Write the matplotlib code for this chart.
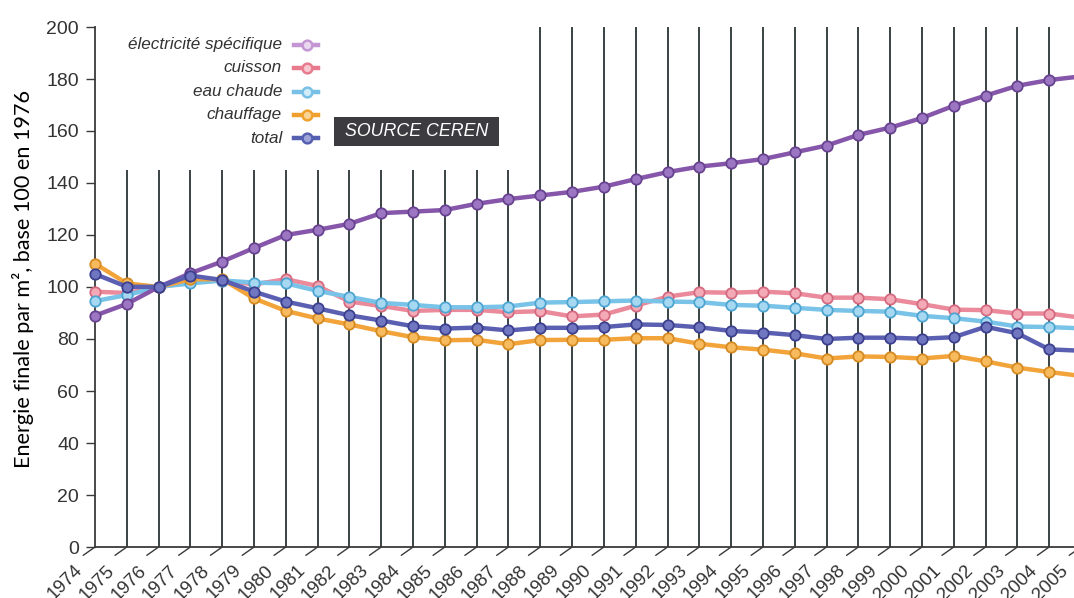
import matplotlib
matplotlib.use('Agg')
import matplotlib.pyplot as plt
import matplotlib.transforms as mtransforms
from matplotlib.patches import Rectangle
from matplotlib.lines import Line2D

# ---------------- data ----------------
years = list(range(1974, 2006))
year_labels = [str(y) for y in years]

elec = [89, 93.5, 100, 105.3, 109.8, 115, 120, 122, 124.3, 128.4, 129, 129.6, 132, 133.8,
        135.2, 136.6, 138.6, 141.5, 144.2, 146.3, 147.6, 149.2, 151.8, 154.4, 158.5, 161.3,
        165, 169.7, 173.6, 177.4, 179.6, 181]
cuisson = [98.2, 97.7, 100, 102, 102.5, 101, 103, 100.4, 94.4, 92.7, 90.8, 91.2, 91.2, 90.3,
           90.7, 88.7, 89.4, 92.8, 96.3, 98, 97.8, 98.2, 97.6, 95.9, 95.9, 95.3, 93.4, 91.3,
           91.1, 89.8, 89.8, 88.2]
eau_chaude = [94.6, 96.9, 100, 101.4, 102.5, 101.7, 101.4, 98.5, 96.2, 93.9, 93.1, 92.2, 92.2,
              92.5, 94, 94.2, 94.5, 94.8, 94.4, 94.2, 93.1, 92.8, 92, 91.2, 90.8, 90.5, 88.9,
              88, 86.7, 84.8, 84.6, 84.1]
chauffage = [109, 101.4, 100, 103, 103, 95.6, 90.8, 87.9, 85.6, 83, 80.7, 79.5, 79.7, 78, 79.6,
             79.7, 79.7, 80.3, 80.3, 78.2, 76.8, 75.9, 74.5, 72.5, 73.3, 73.1, 72.5, 73.5, 71.4,
             69, 67.3, 65.8]
total = [105, 100.1, 100, 104.4, 102.7, 98.2, 94.4, 91.8, 89.1, 87.1, 84.9, 84, 84.4, 83.3, 84.3,
         84.3, 84.6, 85.6, 85.4, 84.5, 83.1, 82.5, 81.5, 80, 80.5, 80.5, 80.1, 80.7, 84.7, 82.2,
         76, 75.5]

series_names = ['électricité spécifique', 'cuisson', 'eau chaude', 'chauffage', 'total']
y_ticks = [0, 20, 40, 60, 80, 100, 120, 140, 160, 180, 200]
y_label = 'Energie finale par m², base 100 en 1976'
source_text = 'SOURCE CEREN'

# ---------------- styles ----------------
SANS = ['Liberation Sans', 'DejaVu Sans']

styles = {
    'électricité spécifique': dict(lc='#8656aa', fc='#9c76c2', ec='#67428f', leg='#c497d4', legc='#ead8f0', z=5),
    'cuisson': dict(lc='#ea8a9b', fc='#f3a9b6', ec='#d46a80', leg='#e87c8e', legc='#f6c7cf', z=3),
    'eau chaude': dict(lc='#78c3e7', fc='#a6d9f1', ec='#4ea5d2', leg='#78c0e6', legc='#d0ecf8', z=3.5),
    'chauffage': dict(lc='#f2a43a', fc='#f7bb5e', ec='#d58a22', leg='#efa02e', legc='#f9d595', z=4),
    'total': dict(lc='#5a5fb2', fc='#7176c0', ec='#3b3f8e', leg='#5560b0', legc='#9ea3d8', z=6),
}
values = {
    'électricité spécifique': elec,
    'cuisson': cuisson,
    'eau chaude': eau_chaude,
    'chauffage': chauffage,
    'total': total,
}

W, H = 1074, 598
fig = plt.figure(figsize=(W / 100, H / 100), dpi=100)
fig.patch.set_facecolor('white')

x0, x1, ytop, ybot = 95, 1081, 27, 547
ax = fig.add_axes([x0 / W, 1 - ybot / H, (x1 - x0) / W, (ybot - ytop) / H])
ax.set_xlim(years[0], years[-1])
ax.set_ylim(y_ticks[0], y_ticks[-1])
ax.set_facecolor('none')

# vertical grid lines: short for the early years, full height afterwards
grid_years = years[1:]
grid_tops = [145 if y < 1988 else 200 for y in grid_years]
ax.vlines(grid_years, 0, grid_tops, color='#2b3535', lw=1.3, zorder=1)

for name in ['cuisson', 'eau chaude', 'chauffage', 'électricité spécifique', 'total']:
    st = styles[name]
    ax.plot(years, values[name], '-', color=st['lc'], lw=3.2, zorder=st['z'], clip_on=False,
            solid_capstyle='round', solid_joinstyle='round')
    ax.plot(years, values[name], 'o', ms=7.5, mfc=st['fc'], mec=st['ec'], mew=1.3,
            zorder=st['z'] + 0.1, clip_on=False)

# spines
for s in ['top', 'right']:
    ax.spines[s].set_visible(False)
for s in ['left', 'bottom']:
    ax.spines[s].set_color('#3a3a3a')
    ax.spines[s].set_linewidth(1.3)

# y axis
ax.set_yticks(y_ticks)
ax.set_yticklabels([str(v) for v in y_ticks], family=SANS, fontsize=14, color='#333333')
ax.tick_params(axis='y', length=6.5, width=1, color='#3a3a3a', pad=5)

# x axis: rotated labels with diagonal tick marks
ax.set_xticks(years)
ax.set_xticklabels(year_labels, family=SANS, fontsize=13.5, color='#333333',
                   rotation=45, ha='right', va='center', rotation_mode='anchor')
ax.tick_params(axis='x', length=0, pad=15)
offset = mtransforms.ScaledTranslation(-0.15, 0, fig.dpi_scale_trans)
for lab in ax.get_xticklabels():
    lab.set_transform(lab.get_transform() + offset)
for y in years:
    ax.annotate('', xy=(y, 0), xycoords='data', xytext=(-8.5, -6), textcoords='offset points',
                arrowprops=dict(arrowstyle='-', color='#3a3a3a', lw=1.0, shrinkA=0, shrinkB=0),
                annotation_clip=False)

# y label
fig.text(23 / W, 1 - 279 / H, y_label, rotation=90, ha='center', va='center',
         fontsize=15.6, family=['Lato', 'DejaVu Sans'], color='black')

# legend (manual, right-aligned labels)
leg_rows = [45, 68, 92, 115, 138]
for name, yy in zip(series_names, leg_rows):
    st = styles[name]
    yf = 1 - yy / H
    fig.text(282 / W, yf, name, ha='right', va='center', style='italic', fontsize=12.3,
             family=SANS, color='#333333')
    fig.add_artist(Line2D([294 / W, 318 / W], [yf, yf], transform=fig.transFigure,
                          color=st['leg'], lw=3.2))
    fig.add_artist(Line2D([307 / W], [yf], transform=fig.transFigure, marker='o', ms=7,
                          mfc=st['legc'], mec=st['leg'], mew=1.8, lw=0))

# source box
fig.add_artist(Rectangle((334 / W, 1 - 146 / H), 165 / W, 29 / H, transform=fig.transFigure,
                         facecolor='#3c3c40', edgecolor='none'))
fig.text(417 / W, 1 - 131.5 / H, source_text, ha='center', va='center', style='italic',
         fontsize=12.8, family=SANS, color='white')

fig.savefig('out.png', dpi=100, facecolor='white')
